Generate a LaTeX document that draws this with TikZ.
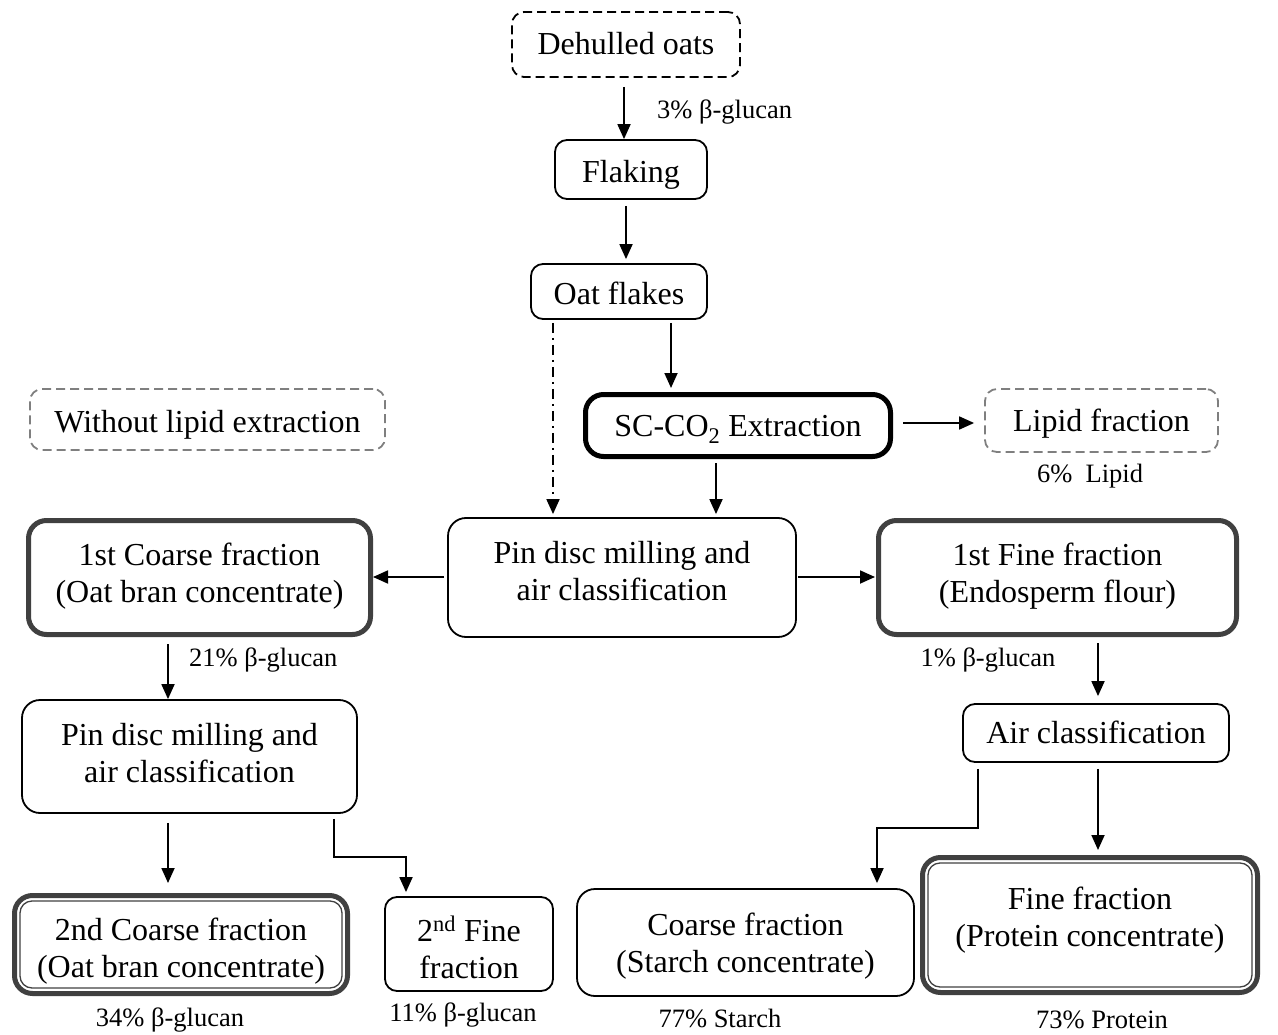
\documentclass[tikz,border=0pt]{standalone}
\usepackage{fontspec}
\setmainfont{Liberation Serif}
\usetikzlibrary{arrows.meta}
\definecolor{dgray}{HTML}{404040}
\definecolor{mgray}{HTML}{7F7F7F}
\newcommand\mainsz{\fontsize{32}{37}\selectfont}
\newcommand\smallsz{\fontsize{26.5}{30}\selectfont}
\tikzset{
  box/.style={draw=black, line width=1.8pt, rounded corners=12pt, align=center, inner sep=0pt, font=\mainsz, text depth=0pt},
  bigbox/.style={box, rounded corners=18pt},
  dashbox/.style={box, dash pattern=on 9pt off 5pt},
  graydash/.style={dashbox, draw=mgray},
  heavybox/.style={bigbox, line width=5pt},
  grayheavy/.style={heavybox, draw=dgray},
  innerline/.style={draw=dgray, line width=1.3pt, rounded corners=12pt},
  arr/.style={draw=black, line width=1.8pt, -{Triangle[length=15pt,width=13pt]}},
  lbl/.style={font=\smallsz, inner sep=0pt},
}
\begin{document}
\begin{tikzpicture}[x=1pt,y=-1pt]
\useasboundingbox (0,0) rectangle (1278,1035);

% nodes
\node[dashbox, text height=21pt, minimum width=228pt, minimum height=65pt] (dehulled) at (626,44.5) {Dehulled oats};
\node[box, text height=25.5pt, minimum width=152pt, minimum height=59pt] (flaking) at (631,169.5) {Flaking};
\node[box, text height=27pt, minimum width=176pt, minimum height=55pt] (oatflakes) at (619,291.5) {Oat flakes};
\node[graydash, text height=26pt, minimum width=355pt, minimum height=61pt] (without) at (207.5,419.5) {Without lipid extraction};
\node[heavybox, text height=22.5pt, minimum width=305pt, minimum height=62pt] (sco2) at (738,425.5) {SC-CO\textsubscript{2} Extraction};
\node[graydash, text height=22pt, minimum width=233pt, minimum height=63pt] (lipid) at (1101.5,420.5) {Lipid fraction};
\node[bigbox, text height=46pt, minimum width=348pt, minimum height=119pt] (pin1) at (622,577.5) {Pin disc milling and\\air classification};
\node[grayheavy, text height=50pt, minimum width=342pt, minimum height=114pt] (coarse1) at (199.5,577.5) {1st Coarse fraction\\(Oat bran concentrate)};
\node[grayheavy, text height=49pt, minimum width=358pt, minimum height=114pt] (fine1) at (1057.5,577.5) {1st Fine fraction\\(Endosperm flour)};
\node[bigbox, text height=51pt, minimum width=335pt, minimum height=113pt] (pin2) at (189.5,756.5) {Pin disc milling and\\air classification};
\node[grayheavy, text height=65pt, minimum width=333pt, minimum height=98pt] (coarse2) at (181,944.5) {2nd Coarse fraction\\(Oat bran concentrate)};
\node[box, text height=68pt, minimum width=168pt, minimum height=94pt] (fine2) at (469,944) {2\textsuperscript{nd} Fine\\fraction};
\node[box, text height=21pt, minimum width=266pt, minimum height=58pt] (air) at (1096,733) {Air classification};
\node[bigbox, text height=59pt, minimum width=337pt, minimum height=107pt] (starch) at (745.5,942.5) {Coarse fraction\\(Starch concentrate)};
\node[grayheavy, text height=43pt, minimum width=335pt, minimum height=135pt] (protein) at (1090,925) {Fine fraction\\(Protein concentrate)};

% inner lines of the double-bordered boxes
\draw[innerline] ([shift={(8pt,-8pt)}]coarse2.north west) rectangle ([shift={(-8pt,8pt)}]coarse2.south east);
\draw[innerline] ([shift={(8pt,-8pt)}]protein.north west) rectangle ([shift={(-8pt,8pt)}]protein.south east);

% labels
\node[lbl, anchor=west] (l1) at (657,112) {3\% β-glucan};
\node[lbl] (l2) at (1090,476) {6\%\ \ Lipid};
\node[lbl, anchor=west] (l3) at (189,660) {21\% β-glucan};
\node[lbl] (l4) at (988,660) {1\% β-glucan};
\node[lbl] (l5) at (170,1020) {34\% β-glucan};
\node[lbl] (l6) at (463,1015) {11\% β-glucan};
\node[lbl] (l7) at (720,1018) {77\% Starch};
\node[lbl] (l8) at (1102,1020) {73\% Protein};

% connectors
\draw[arr, shorten <=9pt] (624,0 |- dehulled.south) -- (624,0 |- flaking.north);
\draw[arr, shorten <=6pt, shorten >=4pt] (626,0 |- flaking.south) -- (626,0 |- oatflakes.north);
\draw[arr, dash pattern=on 10pt off 5pt on 2pt off 5pt, shorten <=3pt, shorten >=3pt] (553,0 |- oatflakes.south) -- (553,0 |- pin1.north);
\draw[arr, shorten <=3pt, shorten >=4pt] (671,0 |- oatflakes.south) -- (671,0 |- sco2.north);
\draw[arr, shorten <=10pt, shorten >=10pt] (sco2.east |- 0,423) -- (lipid.west |- 0,423);
\draw[arr, shorten <=4pt, shorten >=3pt] (716,0 |- sco2.south) -- (716,0 |- pin1.north);
\draw[arr, shorten <=3pt] (pin1.west |- 0,577) -- (coarse1.east |- 0,577);
\draw[arr, shorten <=1pt, shorten >=1pt] (pin1.east |- 0,577) -- (fine1.west |- 0,577);
\draw[arr, shorten <=7pt] (168,0 |- coarse1.south) -- (168,0 |- pin2.north);
\draw[arr, shorten <=9pt, shorten >=10pt] (168,0 |- pin2.south) -- (168,0 |- coarse2.north);
\draw[arr, shorten <=5pt, shorten >=4pt] (334,0 |- pin2.south) -- (334,857) -| (406,0 |- fine2.north);
\draw[arr, shorten <=6pt, shorten >=7pt] (1098,0 |- fine1.south) -- (1098,0 |- air.north);
\draw[arr, shorten <=6pt, shorten >=5pt] (978,0 |- air.south) -- (978,828) -| (877,0 |- starch.north);
\draw[arr, shorten <=6pt, shorten >=5pt] (1098,0 |- air.south) -- (1098,0 |- protein.north);
\end{tikzpicture}
\end{document}
